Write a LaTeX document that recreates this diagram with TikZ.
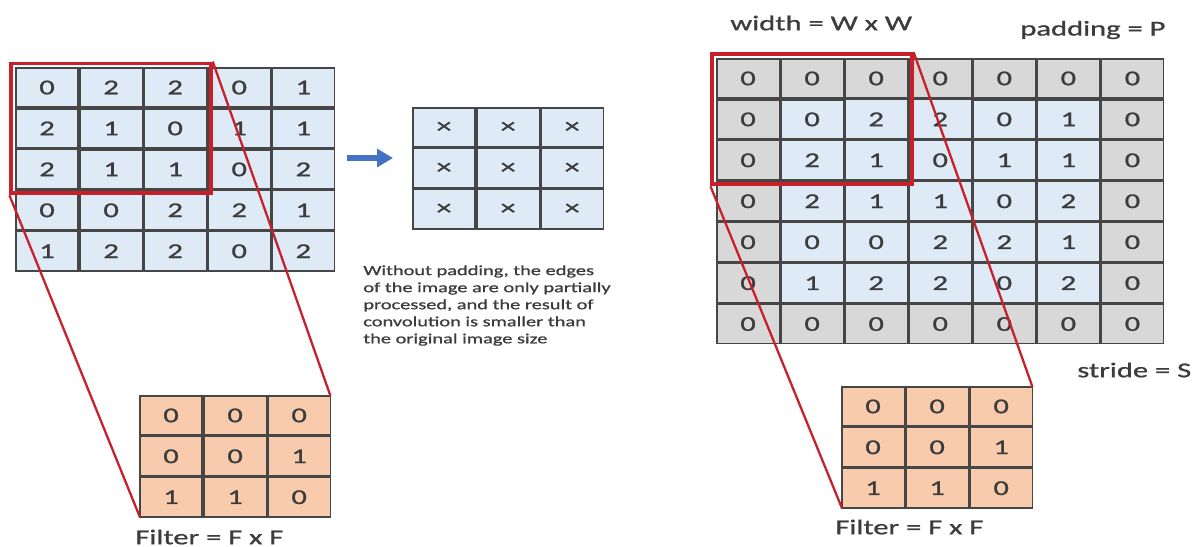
\documentclass[tikz,border=0pt]{standalone}
\usepackage{fontspec}
\setmainfont{Carlito}[FakeStretch=1.45,FakeBold=1]
\usetikzlibrary{matrix,fit,arrows.meta}

\definecolor{cellblue}{RGB}{222,234,246}
\definecolor{padgray}{RGB}{216,216,216}
\definecolor{kernorange}{RGB}{248,203,173}
\definecolor{gridline}{RGB}{70,70,70}
\definecolor{winred}{RGB}{200,32,42}
\definecolor{arrowblue}{RGB}{68,114,196}
\definecolor{inkgray}{RGB}{60,60,60}

\tikzset{
    pixel/.style={draw=gridline, line width=0.9pt, minimum width=1.25cm,
        minimum height=0.786cm, inner sep=0pt, outer sep=0pt, text=inkgray,
        font=\fontsize{12}{14}\selectfont},
    imgmat/.style={matrix of nodes, anchor=north west, inner sep=0pt,
        outer sep=0pt, column sep=0pt, row sep=0pt},
    window/.style={draw=winred, line width=2.2pt, inner sep=2.5pt},
    link/.style={draw=winred, line width=1.3pt},
    flow/.style={draw=arrowblue, line width=3pt, -{Triangle[length=9pt,width=10pt]}},
    label/.style={anchor=west, inner sep=0pt, text=inkgray,
        font=\fontsize{12}{14}\selectfont},
}

\begin{document}
\begin{tikzpicture}[x=0.02cm,y=-0.02cm]
    \useasboundingbox (0,0) rectangle (1199,547);

    % input image, no padding
    \matrix (img) [imgmat, nodes={pixel,fill=cellblue}] at (15,67) {
        0 & 2 & 2 & 0 & 1 \\
        2 & 1 & 0 & 1 & 1 \\
        2 & 1 & 1 & 0 & 2 \\
        0 & 0 & 2 & 2 & 1 \\
        1 & 2 & 2 & 0 & 2 \\
    };
    \matrix (kern) [imgmat, nodes={pixel,fill=kernorange}] at (139,395) {
        0 & 0 & 0 \\
        0 & 0 & 1 \\
        1 & 1 & 0 \\
    };
    \node (win) [window, fit=(img-1-1)(img-3-3)] {};
    \draw[link] (win.south west) -- (kern-3-1.south west);
    \draw[link] (win.north east) -- (kern-1-3.north east);
    \node[label] (ktxt) at (135,537) {Filter = F x F};

    % result
    \coordinate (arrtail) at (347,158);
    \coordinate (arrhead) at (393,158);
    \draw[flow] (arrtail) -- (arrhead);
    \matrix (res) [imgmat, nodes={pixel,fill=cellblue}] at (412,107) {
        × & × & × \\
        × & × & × \\
        × & × & × \\
    };
    \node (note) [anchor=north west, align=left, inner sep=0pt, text=inkgray,
        font=\fontsize{8}{9.7}\selectfont] at (363,265) {Without padding, the edges\\
        of the image are only partially\\ processed, and the result of\\
        convolution is smaller than\\ the original image size};

    % padded image
    \matrix (pad) [imgmat, nodes={pixel,fill=cellblue},
        row 1/.style={nodes={fill=padgray}}, row 7/.style={nodes={fill=padgray}},
        column 1/.style={nodes={fill=padgray}}, column 7/.style={nodes={fill=padgray}}]
        at (716,58) {
        0 & 0 & 0 & 0 & 0 & 0 & 0 \\
        0 & 0 & 2 & 2 & 0 & 1 & 0 \\
        0 & 2 & 1 & 0 & 1 & 1 & 0 \\
        0 & 2 & 1 & 1 & 0 & 2 & 0 \\
        0 & 0 & 0 & 2 & 2 & 1 & 0 \\
        0 & 1 & 2 & 2 & 0 & 2 & 0 \\
        0 & 0 & 0 & 0 & 0 & 0 & 0 \\
    };
    \matrix (pkern) [imgmat, nodes={pixel,fill=kernorange}] at (841,386) {
        0 & 0 & 0 \\
        0 & 0 & 1 \\
        1 & 1 & 0 \\
    };
    \node (pwin) [window, fit=(pad-1-1)(pad-3-3)] {};
    \draw[link] (pwin.south west) -- (pkern-3-1.south west);
    \draw[link] (pwin.north east) -- (pkern-1-3.north east);
    \node[label] (wtxt) at (730,23) {width = W x W};
    \node[label] (ptxt) at (1020,30) {padding = P};
    \node[label] (stxt) at (1077,370) {stride = S};
    \node[label] (pktxt) at (835,527) {Filter = F x F};
\end{tikzpicture}
\end{document}
